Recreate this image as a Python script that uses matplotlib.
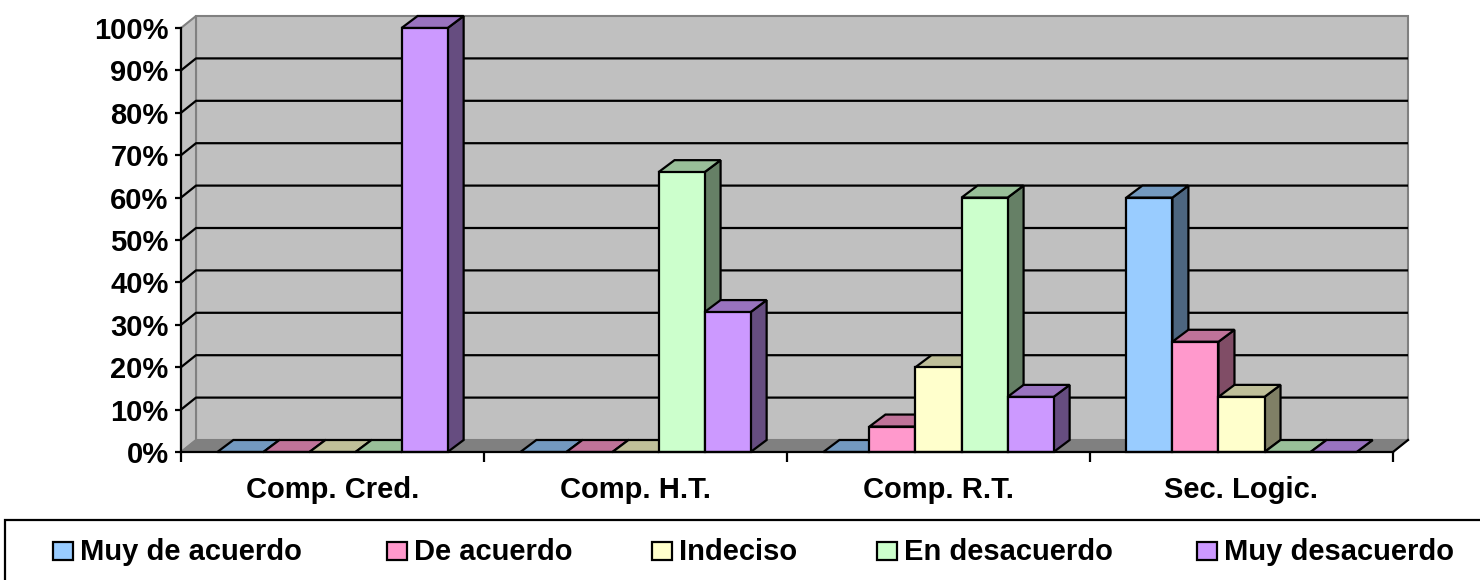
import numpy as np
import matplotlib
matplotlib.use("Agg")
import matplotlib.pyplot as plt
from matplotlib.patches import Polygon, Rectangle

plt.rcParams['font.family'] = ['Liberation Sans', 'DejaVu Sans']
plt.rcParams['font.weight'] = 'bold'

# data (percent)
categories = ["Comp. Cred.", "Comp. H.T.", "Comp. R.T.", "Sec. Logic."]
series = ["Muy de acuerdo", "De acuerdo", "Indeciso", "En desacuerdo", "Muy desacuerdo"]
muy_de_acuerdo = [0, 0, 0, 60]
de_acuerdo = [0, 0, 6, 26]
indeciso = [0, 0, 20, 13]
en_desacuerdo = [0, 66, 60, 0]
muy_desacuerdo = [100, 33, 13, 0]
values = [muy_de_acuerdo, de_acuerdo, indeciso, en_desacuerdo, muy_desacuerdo]
colors = ["#99CCFF", "#FF99CC", "#FFFFCC", "#CCFFCC", "#CC99FF"]

def shade(c, f):
    r, g, b = matplotlib.colors.to_rgb(c)
    return (r * f, g * f, b * f)

W, H = 1480, 580
fig = plt.figure(figsize=(W / 100, H / 100), dpi=100)
ax = fig.add_axes([181 / W, 128 / H, 1212 / W, 424 / H])
ax.set_xlim(0, 4)
ax.set_ylim(0, 100)
ax.patch.set_visible(False)

# 3D depth offsets in data units
px_x = 4 / 1212
px_y = 100 / 424
wdx, wdy = 15 * px_x, 12 * px_y
bdx, bdy = 16 * px_x, 12 * px_y

# back wall, left wall, floor
ax.add_patch(Polygon([(wdx, wdy), (4 + wdx, wdy), (4 + wdx, 100 + wdy), (wdx, 100 + wdy)],
                     closed=True, fc="#C0C0C0", ec="#808080", lw=1.5, zorder=0.5, clip_on=False))
ax.add_patch(Polygon([(0, 0), (wdx, wdy), (wdx, 100 + wdy), (0, 100)],
                     closed=True, fc="#C0C0C0", ec="#808080", lw=1.5, zorder=0.5, clip_on=False))
for v in range(10, 100, 10):
    ax.plot([0, wdx, 4 + wdx], [v, v + wdy, v + wdy], color="black", lw=1.6,
            zorder=1, clip_on=False, solid_capstyle="butt")
ax.add_patch(Polygon([(0, 0), (4, 0), (4 + wdx, wdy), (wdx, wdy)],
                     closed=True, fc="#808080", ec="#808080", lw=1, zorder=1.2, clip_on=False))
ax.plot([4, 4 + wdx], [0, wdy], color="black", lw=1.6, zorder=1.3, clip_on=False)

# bars
bw = 0.152
gap = (1 - 5 * bw) / 2
for i in range(len(categories)):
    for j, s in enumerate(series):
        v = values[j][i]
        x0 = i + gap + j * bw
        x1 = x0 + bw
        c = colors[j]
        kw = dict(ec="black", lw=1.6, zorder=2, clip_on=False, joinstyle="miter")
        ax.add_patch(Polygon([(x1, 0), (x1 + bdx, bdy), (x1 + bdx, v + bdy), (x1, v)],
                             closed=True, fc=shade(c, 0.5), **kw))
        ax.add_patch(Polygon([(x0, v), (x1, v), (x1 + bdx, v + bdy), (x0 + bdx, v + bdy)],
                             closed=True, fc=shade(c, 0.75), **kw))
        if v > 0:
            ax.add_patch(Rectangle((x0, 0), bw, v, fc=c, **kw))

# axes, ticks, labels
for sp in ("top", "right"):
    ax.spines[sp].set_visible(False)
for sp in ("left", "bottom"):
    ax.spines[sp].set_linewidth(1.6)
    ax.spines[sp].set_zorder(3)
ax.set_yticks(range(0, 101, 10))
ax.set_yticklabels([f"{v}%" for v in range(0, 101, 10)], fontsize=21, fontweight="bold")
ax.tick_params(axis="y", direction="out", length=4, width=1.6, pad=5)
ax.set_xticks(range(5))
ax.set_xticklabels([])
ax.tick_params(axis="x", which="major", direction="out", length=7, width=1.6)
ax.set_xticks(np.arange(4) + 0.5, minor=True)
ax.set_xticklabels(categories, minor=True, fontsize=21, fontweight="bold")
ax.tick_params(axis="x", which="minor", length=0, pad=17)

# legend
fig.patches.append(Rectangle((5 / W, -0.1), 1.1, (580 - 520) / H + 0.1, transform=fig.transFigure,
                             fc="white", ec="black", lw=1.6, clip_on=False))
leg_x = [53, 387, 652, 877, 1197]
for lx, s, c in zip(leg_x, series, colors):
    fig.patches.append(Rectangle((lx / W, (580 - 560) / H), 20 / W, 18 / H, transform=fig.transFigure,
                                 fc=c, ec="black", lw=1.6))
    fig.text((lx + 27) / W, (580 - 560) / H, s, fontsize=21, fontweight="bold", va="baseline", ha="left")

fig.savefig("out.png", dpi=100)
